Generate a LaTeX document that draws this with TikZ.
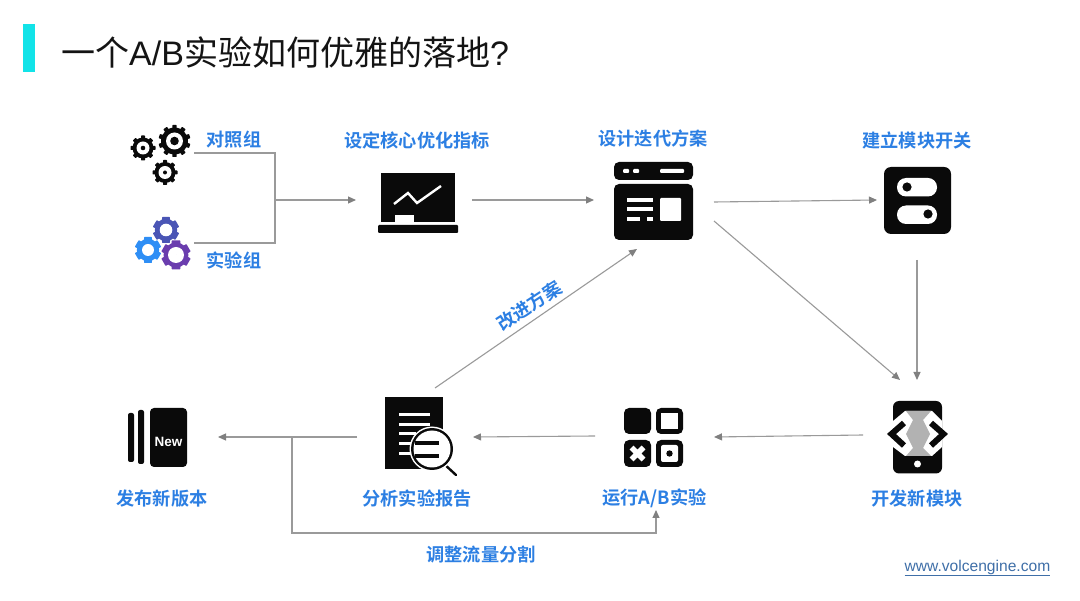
\documentclass[tikz,border=0pt]{standalone}
\usepackage{fontspec}
\setmainfont{Liberation Sans}
\newfontfamily\cjk{Noto Sans CJK SC}
\newfontfamily\cjkb{Noto Sans CJK SC Bold}
\usetikzlibrary{arrows.meta}
\definecolor{lbl}{HTML}{2C7FE3}
\definecolor{ln}{HTML}{9A9A9A}
\definecolor{cy}{HTML}{12E3E8}
\definecolor{ic}{HTML}{0A0A0A}
\definecolor{gA}{HTML}{2E8EF5}
\definecolor{gB}{HTML}{4A55B5}
\definecolor{gC}{HTML}{6A3DAE}
\definecolor{urlc}{HTML}{3F6FA8}
\tikzset{
 lab/.style={text=lbl,font=\cjkb\fontsize{18.2}{18}\selectfont,inner sep=0pt,anchor=center},
 conn/.style={draw=ln,line width=1.1pt},
 arr/.style={conn,-{Triangle[length=8pt,width=7pt,color=black!50,fill=black!50]}},
}
% gear: x,y,radius,teeth,colour,hole radius,dot radius,tooth half width,body ratio
\newcommand{\geargl}[9]{%
 \foreach \a in {1,...,#4}{\fill[#5,rounded corners=0.6pt,rotate around={\a*360/#4:(#1,#2)}] (#1-#3*#8,#2) rectangle (#1+#3*#8,#2-#3);}
 \fill[#5] (#1,#2) circle ({#3*#9});
 \fill[white] (#1,#2) circle ({#6});
 \fill[#5] (#1,#2) circle ({#7});
}
\begin{document}
\begin{tikzpicture}[x=1pt,y=-1pt]
\useasboundingbox (0,0) rectangle (1080,601);
\fill[white] (0,0) rectangle (1080,601);
% title
\fill[cy] (23,24) rectangle (35,72);
\node[anchor=west,inner sep=0pt,text=black!92] (title) at (61,52) {\fontsize{34}{34}\selectfont\cjk 一个{\rmfamily A/B}实验如何优雅的落地{\rmfamily ?}};
% endpoints
\coordinate (ctrl) at (194,153);
\coordinate (exp) at (194,243);
\coordinate (elbowa) at (275,153);
\coordinate (elbowb) at (275,243);
\coordinate (jn) at (275,200);
\coordinate (chartin) at (356,200);
\coordinate (chartout) at (472,200);
\coordinate (webin) at (594,200);
\coordinate (webout) at (714,202);
\coordinate (swin) at (877,200);
\coordinate (swout) at (917,260);
\coordinate (devin) at (917,380);
\coordinate (webdiag) at (714,221);
\coordinate (devdiag) at (900,380);
\coordinate (devout) at (863,435);
\coordinate (runin) at (714,437);
\coordinate (runout) at (595,436);
\coordinate (repin) at (473,437);
\coordinate (repout) at (357,437);
\coordinate (newin) at (218,437);
\coordinate (tee) at (292,437);
\coordinate (teeb) at (292,533);
\coordinate (corner) at (656,533);
\coordinate (runbot) at (656,510);
\coordinate (repup) at (435,388);
\coordinate (webbot) at (637,249);
% connectors
\draw[conn] (ctrl) -- (elbowa) -- (elbowb) -- (exp);
\draw[arr] (jn) -- (chartin);
\draw[arr] (chartout) -- (webin);
\draw[arr] (webout) -- (swin);
\draw[arr] (swout) -- (devin);
\draw[arr] (webdiag) -- (devdiag);
\draw[arr] (devout) -- (runin);
\draw[arr] (runout) -- (repin);
\draw[arr] (repout) -- (newin);
\draw[arr] (tee) -- (teeb) -- (corner) -- (runbot);
\draw[arr] (repup) -- (webbot);
% labels
\node[lab] (l1) at (234,139.5) {对照组};
\node[lab] (l2) at (234,260) {实验组};
\node[lab] (l3) at (417,141) {设定核心优化指标};
\node[lab] (l4) at (653,139) {设计迭代方案};
\node[lab] (l5) at (917,141) {建立模块开关};
\node[lab] (l6) at (917,499) {开发新模块};
\node[lab] (l7) at (654.5,498.5) {运行A/B实验};
\node[lab] (l8) at (417,498.5) {分析实验报告};
\node[lab] (l9) at (162,499) {发布新版本};
\node[lab] (l10) at (481,554.5) {调整流量分割};
\node[lab,rotate=33] (l11) at (529,305.5) {改进方案};
\node[anchor=east,inner sep=0pt,text=urlc] (url) at (1050.5,568) {\fontsize{15.6}{16}\selectfont\underline{www.volcengine.com}};
% gears black
\geargl{174.5}{141}{16}{10}{ic}{8.5}{4.3}{0.14}{0.84}
\geargl{143}{148}{12.5}{8}{ic}{6.5}{2.3}{0.16}{0.84}
\geargl{165}{172.5}{12.5}{8}{ic}{6.5}{2}{0.16}{0.84}
% gears colour
\geargl{166}{230}{13}{6}{gB}{6.3}{0}{0.3}{0.86}
\geargl{148}{250}{13}{6}{gA}{6}{0}{0.3}{0.86}
\geargl{176}{255}{14.5}{6}{gC}{8}{0}{0.3}{0.86}
% chart
\fill[ic] (381,173) rectangle (454.5,222);
\fill[ic,rounded corners=1pt] (378,225) rectangle (458,233);
\fill[white] (395,215) rectangle (414,222);
\draw[white,line width=2.4pt] (394,204) -- (408,193) -- (417,203) -- (441,186);
% browser
\fill[ic,rounded corners=5pt] (614,162) -- (693,162) -- (693,180) -- (614,180) -- cycle;
\fill[ic,rounded corners=5pt] (614,184) -- (693,184) -- (693,240) -- (614,240) -- cycle;
\fill[white,rounded corners=1pt] (623,169) rectangle (629,173);
\fill[white,rounded corners=1pt] (633,169) rectangle (639,173);
\fill[white,rounded corners=1pt] (660,169) rectangle (684,173);
\fill[white] (627,198.5) rectangle (653,202);
\fill[white] (627,207.5) rectangle (653,211);
\fill[white] (627,217.5) rectangle (640,221);
\fill[white] (647,217.5) rectangle (653,221);
\fill[white,rounded corners=1pt] (660,198) rectangle (681,221);
% switch
\fill[ic,rounded corners=7pt] (884,167) rectangle (951,234);
\fill[white,rounded corners=9pt] (897,178) rectangle (937,196.5);
\fill[white,rounded corners=9pt] (897,205.5) rectangle (937,224);
\fill[ic] (907,187) circle (4.6);
\fill[ic] (928,214) circle (4.6);
% dev phone
\fill[ic,rounded corners=6pt] (893,401) rectangle (942,473.5);
\fill[white] (905,411) -- (932,411) -- (942,421) -- (942,447) -- (932,456) -- (905,456) -- (893,447) -- (893,421) -- cycle;
\fill[black!30] (906,411) -- (931,411) -- (923,420) -- (930,434) -- (923,448) -- (931,456) -- (906,456) -- (913,448) -- (906,434) -- (913,420) -- cycle;
\fill[white] (917.5,464) circle (3.5);
\draw[ic,line width=6pt,miter limit=10] (904,423) -- (891.5,434) -- (904,445.5);
\draw[ic,line width=6pt,miter limit=10] (931,423) -- (943.5,434) -- (931,445.5);
% run grid
\fill[ic,rounded corners=5pt] (624,408) rectangle (651,434);
\fill[ic,rounded corners=5pt] (656,408) rectangle (683,434);
\fill[white] (661,413) rectangle (678,429);
\fill[ic,rounded corners=5pt] (624,440) rectangle (651,467);
\draw[white,line width=5.5pt] (631.5,447.5) -- (643.5,459.5) (643.5,447.5) -- (631.5,459.5);
\fill[ic,rounded corners=5pt] (656,440) rectangle (683,467);
\fill[white,rounded corners=2pt] (661,445) rectangle (678,462);
\fill[ic] (669.5,453.5) circle (3.2);
% report
\fill[ic] (385,397) rectangle (443,469);
\foreach \yy in {413.5,423}{\fill[white] (399,\yy) rectangle (430,\yy+3);}
\foreach \yy in {432,442,452}{\fill[white] (399,\yy) rectangle (416,\yy+3);}
\draw[ic,line width=2.4pt,line cap=round] (443,463) -- (456,475);
\fill[white] (432,449) circle (22.5);
\fill[ic] (432,449) circle (21);
\fill[white] (432,449) circle (18.5);
\fill[ic] (415,441.5) rectangle (439,445.5);
\fill[ic] (415,454) rectangle (439,458);
% new
\fill[ic,rounded corners=2pt] (128,413) rectangle (134,462);
\fill[ic,rounded corners=2pt] (138,410) rectangle (144,464);
\fill[ic,rounded corners=4pt] (150,408) rectangle (187,467);
\node[inner sep=0pt,text=white] (newt) at (168.5,442) {\fontsize{13.5}{13.5}\selectfont\bfseries New};
\end{tikzpicture}
\end{document}
